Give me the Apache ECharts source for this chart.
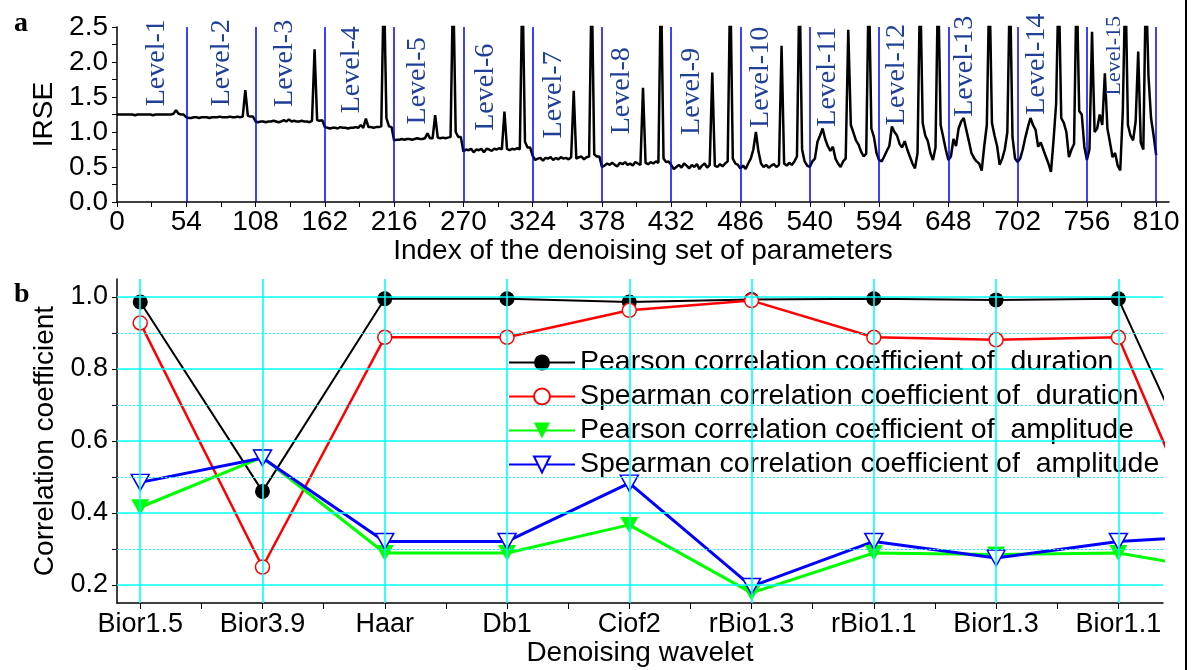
<!DOCTYPE html>
<html>
<head>
<meta charset="utf-8">
<script src="https://cdn.jsdelivr.net/npm/echarts@6/dist/echarts.min.js"></script>
<style>
  html, body { margin: 0; padding: 0; background: #fff; }
  #chart { width: 1192px; height: 670px; }
</style>
</head>
<body>
<div id="chart"></div>
<script>
// ---- panel a : IRSE of every denoising parameter set (read every 2 indices) ----
const levelSize = 54;
const level1 = [1.25, 1.25, 1.25, 1.25, 1.25, 1.25, 1.25, 1.24, 1.25, 1.25, 1.25, 1.25, 1.25, 1.25, 1.24, 1.25, 1.25, 1.25, 1.25, 1.25, 1.25, 1.25, 1.26, 1.31, 1.26, 1.25, 1.25];
const level2 = [1.21, 1.20, 1.20, 1.21, 1.21, 1.20, 1.21, 1.21, 1.21, 1.20, 1.21, 1.21, 1.21, 1.22, 1.21, 1.21, 1.21, 1.22, 1.21, 1.21, 1.22, 1.21, 1.22, 1.60, 1.23, 1.22, 1.22];
const level3 = [1.15, 1.14, 1.15, 1.15, 1.14, 1.15, 1.15, 1.16, 1.15, 1.14, 1.15, 1.17, 1.15, 1.18, 1.15, 1.16, 1.15, 1.15, 1.16, 1.15, 1.15, 1.14, 1.16, 2.18, 1.17, 1.16, 1.17];
const level4 = [1.07, 1.06, 1.05, 1.06, 1.06, 1.05, 1.07, 1.06, 1.06, 1.05, 1.06, 1.06, 1.07, 1.06, 1.10, 1.06, 1.19, 1.07, 1.07, 1.06, 1.07, 1.07, 1.08, 3.20, 1.20, 1.08, 1.07];
const level5 = [0.88, 0.89, 0.89, 0.90, 0.89, 0.90, 0.90, 0.89, 0.90, 0.91, 0.90, 0.90, 0.91, 0.98, 0.91, 0.91, 1.24, 0.92, 0.91, 0.92, 0.91, 0.92, 0.93, 3.20, 1.00, 0.93, 0.93];
const level6 = [0.72, 0.75, 0.74, 0.76, 0.71, 0.75, 0.74, 0.76, 0.71, 0.76, 0.75, 0.73, 0.76, 0.75, 0.77, 0.75, 1.29, 0.76, 0.74, 0.76, 0.75, 0.77, 0.75, 3.20, 0.86, 0.78, 0.78];
const level7 = [0.66, 0.60, 0.62, 0.63, 0.59, 0.63, 0.62, 0.64, 0.60, 0.63, 0.61, 0.64, 0.62, 0.63, 0.61, 0.64, 1.59, 0.62, 0.64, 0.65, 0.61, 0.64, 0.65, 3.20, 0.68, 0.65, 0.65];
const level8 = [0.50, 0.52, 0.55, 0.53, 0.56, 0.53, 0.51, 0.56, 0.54, 0.57, 0.53, 0.55, 0.52, 0.57, 0.55, 0.53, 1.63, 0.56, 0.54, 0.57, 0.55, 0.58, 0.56, 3.20, 0.62, 0.57, 0.58];
const level9 = [0.53, 0.47, 0.50, 0.53, 0.49, 0.55, 0.52, 0.48, 0.53, 0.50, 0.54, 0.47, 0.52, 0.55, 0.49, 0.53, 1.85, 0.52, 0.50, 0.54, 0.51, 0.55, 0.58, 3.20, 0.62, 0.55, 0.53];
const level10 = [0.48, 0.52, 0.47, 0.55, 0.62, 0.75, 1.00, 0.72, 0.55, 0.50, 0.53, 0.49, 0.52, 0.54, 0.50, 0.53, 2.23, 0.55, 0.52, 0.56, 0.53, 0.58, 0.65, 3.20, 0.75, 0.58, 0.52];
const level11 = [0.50, 0.58, 0.62, 0.86, 0.95, 1.05, 0.90, 0.80, 0.73, 0.79, 0.62, 0.55, 0.50, 0.58, 0.62, 2.46, 1.10, 0.99, 0.88, 0.82, 0.72, 0.65, 0.69, 3.20, 1.05, 0.93, 0.70];
const level12 = [0.60, 0.58, 0.65, 0.73, 0.80, 1.08, 1.00, 0.95, 0.83, 0.78, 0.87, 0.75, 0.65, 0.55, 0.48, 0.70, 3.20, 1.13, 0.95, 0.87, 0.70, 0.60, 0.78, 3.20, 1.10, 0.93, 0.75];
const level13 = [0.60, 0.65, 0.90, 0.80, 1.05, 1.15, 1.20, 1.03, 0.87, 0.70, 0.63, 0.58, 0.55, 0.45, 0.80, 1.10, 3.20, 1.13, 0.95, 0.80, 0.53, 0.62, 0.75, 1.00, 3.20, 0.93, 0.62];
const level14 = [0.57, 0.62, 0.75, 0.92, 1.07, 1.20, 1.10, 1.03, 0.79, 0.85, 0.75, 0.65, 0.55, 0.43, 0.88, 1.40, 3.20, 1.20, 1.13, 1.00, 0.64, 0.75, 0.83, 3.20, 1.30, 1.25, 0.79];
const level15 = [0.60, 0.75, 2.43, 1.00, 1.05, 1.25, 1.10, 1.84, 1.05, 0.85, 0.64, 0.70, 0.52, 0.45, 1.30, 3.20, 1.10, 0.95, 0.88, 1.15, 2.15, 0.85, 0.75, 3.20, 1.80, 1.20, 0.95, 0.67];
const levels = [level1, level2, level3, level4, level5, level6, level7, level8, level9, level10, level11, level12, level13, level14, level15];

const indexLabels = [0, 54, 108, 162, 216, 270, 324, 378, 432, 486, 540, 594, 648, 702, 756, 810];
const levelNames = ['Level-1', 'Level-2', 'Level-3', 'Level-4', 'Level-5', 'Level-6', 'Level-7', 'Level-8',
  'Level-9', 'Level-10', 'Level-11', 'Level-12', 'Level-13', 'Level-14', 'Level-15'];
const levelNameX = [31, 81.5, 131, 183, 234.5, 287, 340, 393, 448, 501.5, 554, 607.5, 661, 717, 777.5];
const levelNameY = [1.99, 1.99, 1.98, 1.89, 1.73, 1.64, 1.53, 1.59, 1.58, 1.78, 1.79, 1.82, 1.94, 1.97, 2.09];

// ---- panel b : correlation coefficient per wavelet ----
const wavelets = ['Bior1.5', 'Bior3.9', 'Haar', 'Db1', 'Ciof2', 'rBio1.3', 'rBio1.1', 'Bior1.3', 'Bior1.1'];
// 10th value is the next (cut off) point beyond the right edge
const pearsonDuration = [0.986, 0.46, 0.995, 0.995, 0.986, 0.993, 0.995, 0.992, 0.995, 0.25];
const spearmanDuration = [0.928, 0.25, 0.888, 0.888, 0.963, 0.99, 0.888, 0.881, 0.888, 0.10];
const pearsonAmplitude = [0.416, 0.555, 0.289, 0.289, 0.367, 0.178, 0.289, 0.285, 0.289, 0.23];
const spearmanAmplitude = [0.485, 0.553, 0.321, 0.321, 0.483, 0.196, 0.321, 0.275, 0.321, 0.34];
const corrLabels = [0.2, 0.4, 0.6, 0.8, 1.0];

const font = 'Liberation Sans';
const chart = echarts.init(document.getElementById('chart'));

const irse = [];
levels.forEach((vals, k) => {
  vals.forEach((v, i) => irse.push([k * levelSize + 2 * i, v]));
});

const ticksA = [];
for (let t = 0; t <= 810; t += 27) ticksA.push(t);
const ticksB = [];
for (let t = 1; t <= 9; t += 0.5) ticksB.push(t);
const yTicksB = [0.2, 0.3, 0.4, 0.5, 0.6, 0.7, 0.8, 0.9, 1.0];

const toXY = (arr) => arr.map((v, i) => [i + 1, v]);

const axisBase = {
  axisLine: { show: true, lineStyle: { color: '#000', width: 1.5 } },
  axisTick: { show: true, inside: false, length: 5, lineStyle: { color: '#000', width: 1 } },
  splitLine: { show: false },
  nameLocation: 'middle',
  nameTextStyle: { fontFamily: font, fontSize: 28, color: '#000' },
};

const hGrid = [];
corrLabels.forEach((v) => hGrid.push({ yAxis: v, lineStyle: { color: '#00ffff', width: 1.6, type: 'solid' } }));
[0.3, 0.5, 0.7, 0.9].forEach((v) => hGrid.push({ yAxis: v, lineStyle: { color: '#00ffff', width: 1, type: [2, 2] } }));
wavelets.forEach((w, i) => hGrid.push({ xAxis: i + 1, lineStyle: { color: '#00ffff', width: 1.6, type: 'solid' } }));

const levelText = levelNames.map((n, i) => [levelNameX[i], levelNameY[i], i]);

const option = {
  animation: false,
  textStyle: { fontFamily: font },
  grid: [
    { left: 117, top: 27, width: 1052, height: 175 },
    { left: 117, top: 279, width: 1046, height: 324 },
  ],
  xAxis: [
    Object.assign({}, axisBase, {
      type: 'value', gridIndex: 0, min: 0, max: 820,
      name: 'Index of the denoising set of parameters', nameGap: 30,
      axisTick: Object.assign({}, axisBase.axisTick, { customValues: ticksA }),
      axisLabel: { customValues: indexLabels, fontFamily: font, fontSize: 28, color: '#000', margin: 6 },
    }),
    Object.assign({}, axisBase, {
      type: 'value', gridIndex: 1, min: 0.81, max: 9.365,
      name: 'Denoising wavelet', nameGap: 36,
      axisTick: Object.assign({}, axisBase.axisTick, { length: 6, customValues: ticksB }),
      axisLabel: {
        customValues: [1, 2, 3, 4, 5, 6, 7, 8, 9], fontFamily: font, fontSize: 27, color: '#000', margin: 8,
        formatter: (v) => wavelets[Math.round(v) - 1],
      },
    }),
  ],
  yAxis: [
    Object.assign({}, axisBase, {
      type: 'value', gridIndex: 0, min: 0, max: 2.5, interval: 0.5,
      name: 'IRSE', nameGap: 58, nameRotate: 90,
      minorTick: { show: true, splitNumber: 2, length: 5, lineStyle: { color: '#000' } },
      axisLabel: { fontFamily: font, fontSize: 28, color: '#000', margin: 9, formatter: (v) => v.toFixed(1) },
    }),
    Object.assign({}, axisBase, {
      type: 'value', gridIndex: 1, min: 0.15, max: 1.05,
      name: 'Correlation coefficient', nameGap: 52, nameRotate: 90,
      axisTick: Object.assign({}, axisBase.axisTick, { customValues: yTicksB }),
      axisLabel: {
        customValues: corrLabels, fontFamily: font, fontSize: 27, color: '#000', margin: 9,
        formatter: (v) => v.toFixed(1),
      },
    }),
  ],
  legend: {
    orient: 'vertical', left: 503, top: 343, itemWidth: 66, itemHeight: 20, itemGap: 5,
    textStyle: { fontFamily: font, fontSize: 28.5, color: '#000' },
    data: [
      'Pearson correlation coefficient of  duration',
      'Spearman correlation coefficient of  duration',
      'Pearson correlation coefficient of  amplitude',
      'Spearman correlation coefficient of  amplitude',
    ],
  },
  graphic: [
    { type: 'text', left: 14, top: 10, style: { text: 'a', fontFamily: 'Liberation Serif', fontWeight: 'bold', fontSize: 28, fill: '#000' } },
    { type: 'text', left: 14, top: 281, style: { text: 'b', fontFamily: 'Liberation Serif', fontWeight: 'bold', fontSize: 28, fill: '#000' } },
    { type: 'line', shape: { x1: 1186, y1: 0, x2: 1186, y2: 670 }, style: { stroke: '#000', lineWidth: 2 } },
  ],
  series: [
    {
      // level boundaries
      type: 'line', xAxisIndex: 0, yAxisIndex: 0, data: [], silent: true, z: 1,
      markLine: {
        silent: true, symbol: 'none', label: { show: false }, animation: false,
        lineStyle: { color: '#0000ff', width: 1.5, type: 'solid' },
        data: indexLabels.slice(1).map((v) => ({ xAxis: v })),
      },
    },
    {
      type: 'line', xAxisIndex: 0, yAxisIndex: 0, data: irse, z: 3,
      showSymbol: false, clip: true, lineStyle: { color: '#000', width: 2.5 },
    },
    {
      // rotated level names
      type: 'custom', xAxisIndex: 0, yAxisIndex: 0, z: 4, silent: true, clip: false,
      data: levelText,
      renderItem: (params, api) => {
        const p = api.coord([api.value(0), api.value(1)]);
        const i = api.value(2);
        return {
          type: 'text', x: p[0], y: p[1], rotation: Math.PI / 2,
          style: {
            text: levelNames[i], fill: '#1f3f98', align: 'center', verticalAlign: 'middle',
            fontFamily: 'Liberation Serif', fontSize: i === 14 ? 22 : 28,
          },
        };
      },
    },
    {
      // cyan grid of panel b
      type: 'line', xAxisIndex: 1, yAxisIndex: 1, data: [], silent: true, z: 1,
      markLine: { silent: true, symbol: 'none', label: { show: false }, animation: false, data: hGrid },
    },
    {
      name: 'Pearson correlation coefficient of  duration', type: 'line', xAxisIndex: 1, yAxisIndex: 1, z: 3,
      data: toXY(pearsonDuration), symbol: 'circle', symbolSize: 15,
      itemStyle: { color: '#000' }, lineStyle: { color: '#000', width: 2 },
    },
    {
      name: 'Spearman correlation coefficient of  duration', type: 'line', xAxisIndex: 1, yAxisIndex: 1, z: 3,
      data: toXY(spearmanDuration), symbol: 'circle', symbolSize: 14,
      itemStyle: { color: '#fff', borderColor: '#ff0000', borderWidth: 1.5 }, lineStyle: { color: '#ff0000', width: 2.5 },
    },
    {
      name: 'Pearson correlation coefficient of  amplitude', type: 'line', xAxisIndex: 1, yAxisIndex: 1, z: 3,
      data: toXY(pearsonAmplitude), symbol: 'triangle', symbolRotate: 180, symbolSize: [18, 16],
      itemStyle: { color: '#00ff00' }, lineStyle: { color: '#00ff00', width: 3 },
    },
    {
      name: 'Spearman correlation coefficient of  amplitude', type: 'line', xAxisIndex: 1, yAxisIndex: 1, z: 3,
      data: toXY(spearmanAmplitude), symbol: 'triangle', symbolRotate: 180, symbolSize: [18, 16],
      itemStyle: { color: '#fff', borderColor: '#0000ff', borderWidth: 1.5 }, lineStyle: { color: '#0000ff', width: 3 },
    },
  ],
};

chart.setOption(option);
</script>
</body>
</html>
